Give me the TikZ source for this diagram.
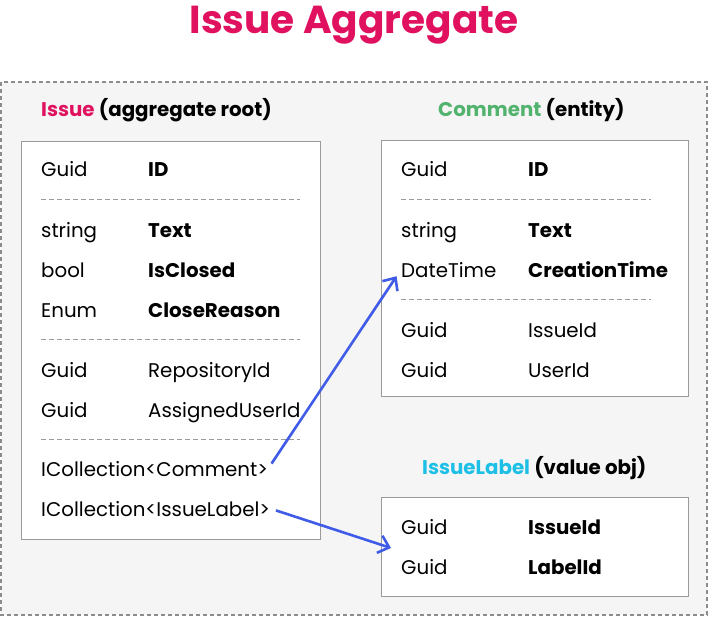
\documentclass[tikz,border=0pt]{standalone}
\usepackage{fontspec}
\setmainfont{Poppins}
\usepackage{xcolor}
\usetikzlibrary{arrows.meta}
\definecolor{crimson}{HTML}{E0115F}
\definecolor{leafgreen}{HTML}{52B36E}
\definecolor{skycyan}{HTML}{1CBFE6}
\definecolor{linkblue}{HTML}{3F5BE8}
\definecolor{panelgray}{HTML}{F5F5F5}
\definecolor{framegray}{HTML}{8C8C8C}
\definecolor{boxgray}{HTML}{9A9A9A}

\begin{document}
\begin{tikzpicture}[x=1pt, y=-1pt, font=\fontsize{19.8}{24}\selectfont,
  box/.style={draw=boxgray, fill=white, line width=0.8pt},
  sep/.style={draw=boxgray, line width=0.6pt, dash pattern=on 5pt off 3pt},
  txt/.style={anchor=base west, inner sep=0pt},
  key/.style={txt, font=\fontsize{19.8}{24}\selectfont\bfseries},
  head/.style={anchor=base west, inner sep=0pt, font=\fontsize{19.8}{24}\selectfont\bfseries},
  link/.style={draw=linkblue, line width=2.6pt, -{Straight Barb[length=10pt,width=18pt]}}]
\useasboundingbox (0,0) rectangle (708,617);
\node[font=\fontsize{39}{46}\selectfont\bfseries, text=crimson] (title) at (354,25) {Issue Aggregate};
\draw[fill=panelgray, draw=framegray, line width=1.6pt, dash pattern=on 4pt off 3pt] (1,82) rectangle (707,615);

% Issue
\node[head] (issuehead) at (41,117) {\textcolor{crimson}{Issue} (aggregate root)};
\draw[box] (21,141) rectangle (320,539);
\node[txt] (iidt) at (41,177) {Guid};           \node[key] (iid) at (148,177) {ID};
\draw[sep] (41,199) -- (300,199);
\node[txt] (itextt) at (41,237) {string};       \node[key] (itext) at (148,237) {Text};
\node[txt] (iclosedt) at (41,277) {bool};       \node[key] (iclosed) at (148,277) {IsClosed};
\node[txt] (ireasont) at (41,317) {Enum};       \node[key] (ireason) at (148,317) {CloseReason};
\draw[sep] (41,339) -- (300,339);
\node[txt] (irepot) at (41,377) {Guid};         \node[txt] (irepo) at (148,377) {RepositoryId};
\node[txt] (iusert) at (41,417) {Guid};         \node[txt] (iuser) at (148,417) {AssignedUserId};
\draw[sep] (41,439) -- (300,439);
\node[txt] (icomment) at (41,476) {ICollection<Comment>};
\node[txt] (ilabel) at (41,516) {ICollection<IssueLabel>};

% Comment
\node[head] (commenthead) at (438,117) {\textcolor{leafgreen}{Comment} (entity)};
\draw[box] (381,140) rectangle (688,396);
\node[txt] (cidt) at (401,177) {Guid};          \node[key] (cid) at (528,177) {ID};
\draw[sep] (401,199) -- (651,199);
\node[txt] (ctextt) at (401,237) {string};      \node[key] (ctext) at (528,237) {Text};
\node[txt] (cdate) at (401,277) {DateTime};     \node[key] (ctime) at (528,277) {CreationTime};
\draw[sep] (401,299) -- (651,299);
\node[txt] (cissuet) at (401,337) {Guid};       \node[txt] (cissue) at (528,337) {IssueId};
\node[txt] (cusert) at (401,377) {Guid};        \node[txt] (cuser) at (528,377) {UserId};

% IssueLabel
\node[head] (labelhead) at (422,474) {\textcolor{skycyan}{IssueLabel} (value obj)};
\draw[box] (381,497) rectangle (688,596);
\node[txt] (lissuet) at (401,534) {Guid};       \node[key] (lissue) at (528,534) {IssueId};
\node[txt] (llabelt) at (401,574) {Guid};       \node[key] (llabel) at (528,574) {LabelId};
\coordinate (lblin) at (391,548);

\draw[link, shorten <=6pt, shorten >=8pt] (icomment.east) -- (cdate.west);
\draw[link, shorten <=6pt] (ilabel.east) -- (lblin);
\end{tikzpicture}
\end{document}
